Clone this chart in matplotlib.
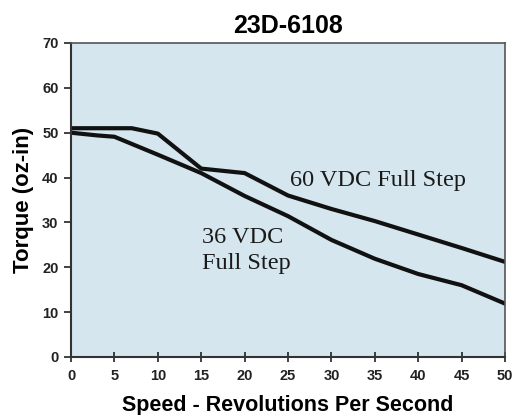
import matplotlib
matplotlib.use("Agg")
import matplotlib.pyplot as plt

# torque curves
speed_60 = [0, 3, 7, 10, 15, 20, 25, 30, 35, 40, 45, 50]
torque_60 = [51, 51, 51, 49.8, 42, 41, 36, 33, 30.3, 27.3, 24.3, 21.2]
speed_36 = [0, 3, 5, 10, 15, 20, 25, 30, 35, 40, 45, 50]
torque_36 = [50, 49.4, 49.1, 45.1, 41, 35.9, 31.4, 26.1, 21.9, 18.5, 16, 11.9]

x_ticks = [0, 5, 10, 15, 20, 25, 30, 35, 40, 45, 50]
y_ticks = [0, 10, 20, 30, 40, 50, 60, 70]

fig = plt.figure(figsize=(5.16, 4.15), dpi=100)
ax = fig.add_axes([0.1376, 0.1398, 0.8411, 0.7566])
ax.set_facecolor('#d5e6ef')

ax.plot(speed_60, torque_60, color='#111111', lw=3, solid_joinstyle='round')
ax.plot(speed_36, torque_36, color='#111111', lw=3, solid_joinstyle='round')

serif = 'Liberation Serif'
ax.text(25.2, 39.3, '60 VDC Full Step', fontsize=17.5, family=serif,
        va='center', ha='left', color='#1a1a1a')
ax.text(15.1, 26.6, '36 VDC', fontsize=17.5, family=serif,
        va='center', ha='left', color='#1a1a1a')
ax.text(15.1, 20.8, 'Full Step', fontsize=17.5, family=serif,
        va='center', ha='left', color='#1a1a1a')

ax.set_xlim(0, 50)
ax.set_ylim(0, 70)
ax.set_xticks(x_ticks)
ax.set_yticks(y_ticks)

sans = 'Liberation Sans'
for lab in ax.get_xticklabels() + ax.get_yticklabels():
    lab.set_family(sans)
    lab.set_fontweight('bold')
    lab.set_fontsize(10.5)

ax.tick_params(axis='x', direction='inout', length=7, width=1.2, pad=5, colors='#222222')
ax.tick_params(axis='y', direction='out', length=5, width=1.2, pad=4, colors='#222222')

for side in ['top', 'right']:
    ax.spines[side].set_color('#555555')
    ax.spines[side].set_linewidth(1.2)
for side in ['left', 'bottom']:
    ax.spines[side].set_color('#333333')
    ax.spines[side].set_linewidth(1.5)

ax.set_title('23D-6108', fontsize=18, fontweight='bold', family=sans, pad=7)
ax.set_xlabel('Speed - Revolutions Per Second', fontsize=15.5, fontweight='bold',
              family=sans, labelpad=9)
ax.set_ylabel('Torque (oz-in)', fontsize=16, fontweight='bold', family=sans, labelpad=6)

fig.savefig('out.png', dpi=100)
